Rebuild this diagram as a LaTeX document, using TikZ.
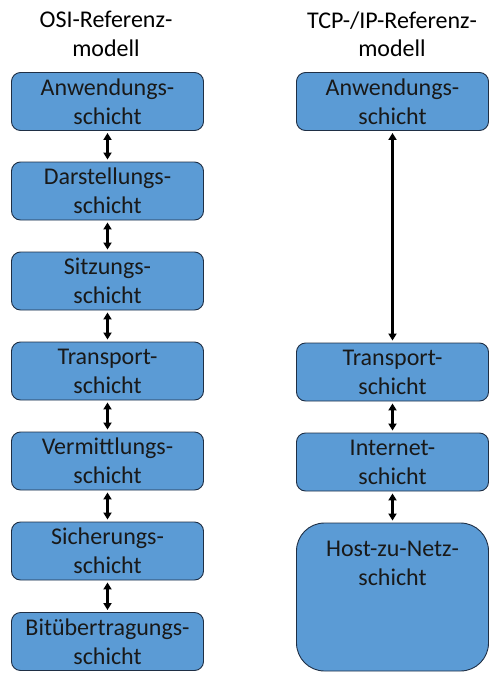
\documentclass[tikz,border=0pt]{standalone}
\usepackage{fontspec}
\setmainfont{Carlito}
\usetikzlibrary{arrows.meta}
\definecolor{boxfill}{HTML}{5B9BD5}
\definecolor{boxline}{HTML}{1F2F45}
\tikzset{
  layer/.style={draw=boxline, line width=0.9pt, fill=boxfill, rounded corners=9pt, minimum width=192pt, minimum height=58pt, inner sep=0pt, font=\fontsize{24}{29}\selectfont, align=center, text=black!90},
  title/.style={font=\fontsize{24}{28.5}\selectfont, align=center},
  link/.style={{Triangle[length=7pt,width=8pt]}-{Triangle[length=7pt,width=8pt]}, line width=2.2pt, shorten >=2pt, shorten <=2pt}
}
\begin{document}
\begin{tikzpicture}[x=1pt,y=-1pt]
\useasboundingbox (0,0) rectangle (500,683);
\node[title] (t1) at (106,34) {OSI-Referenz-\\modell};
\node[title] (t2) at (392,34) {TCP-/IP-Referenz-\\modell};
\node[layer] (a1) at (107.5,101.5) {Anwendungs-\\schicht};
\node[layer] (a2) at (107.5,191) {Darstellungs-\\schicht};
\node[layer] (a3) at (107.5,281) {Sitzungs-\\schicht};
\node[layer] (a4) at (107.5,371) {Transport-\\schicht};
\node[layer] (a5) at (107.5,461) {Vermittlungs-\\schicht};
\node[layer] (a6) at (107.5,551) {Sicherungs-\\schicht};
\node[layer] (a7) at (107.5,641.5) {Bitübertragungs-\\schicht};
\node[layer] (b1) at (392.5,101.5) {Anwendungs-\\schicht};
\node[layer] (b2) at (392.5,372) {Transport-\\schicht};
\node[layer] (b3) at (392.5,462) {Internet-\\schicht};
\node[layer, minimum height=148pt, rounded corners=28pt] (b4) at (392.5,597) {Host-zu-Netz-\\schicht\rule[-67pt]{0pt}{67pt}};
\draw[link] (a1) -- (a2);
\draw[link] (a2) -- (a3);
\draw[link] (a3) -- (a4);
\draw[link] (a4) -- (a5);
\draw[link] (a5) -- (a6);
\draw[link] (a6) -- (a7);
\draw[link] (b1) -- (b2);
\draw[link] (b2) -- (b3);
\draw[link] (b3) -- (b4);
\end{tikzpicture}
\end{document}
